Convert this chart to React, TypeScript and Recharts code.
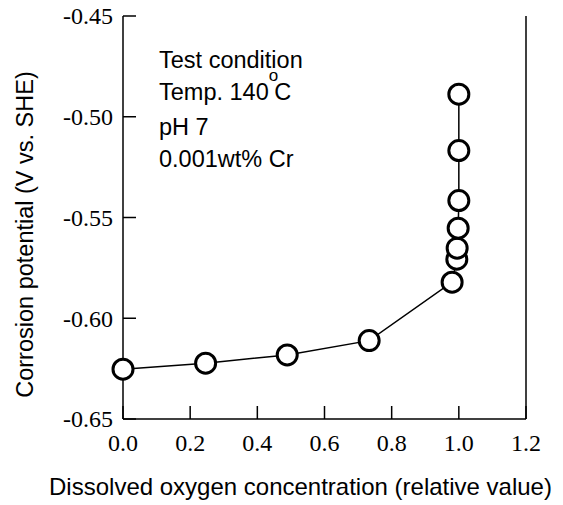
import React from "react";
import { LineChart, Line, XAxis, YAxis, Label } from "recharts";

const oxygenConc = [0.0, 0.246, 0.489, 0.733, 0.98, 0.994, 0.995, 0.998, 1.0, 1.0, 1.0];
const potential = [-0.6253, -0.6223, -0.6182, -0.6111, -0.5821, -0.5707, -0.5652, -0.5553, -0.5416, -0.5168, -0.4888];
const xTicks = [0.0, 0.2, 0.4, 0.6, 0.8, 1.0, 1.2];
const yTicks = [-0.65, -0.6, -0.55, -0.5, -0.45];
const xTitle = "Dissolved oxygen concentration (relative value)";
const yTitle = "Corrosion potential (V vs. SHE)";
const noteLines = ["Test condition", "Temp. 140", "pH 7", "0.001wt% Cr"];

const data = oxygenConc.map((x, i) => ({ x, y: potential[i] }));

const serif = "'Liberation Serif', 'Times New Roman', serif";
const sans = "'Liberation Sans', Arial, sans-serif";

const Dot = (props: any) => {
  const { cx, cy } = props;
  if (cx == null || cy == null) return null;
  return <circle cx={cx} cy={cy} r={10} fill="#fff" stroke="#000" strokeWidth={3} />;
};

const XTick = (props: any) => {
  const { x, y, payload } = props;
  return (
    <g>
      <text x={x} y={y} dy="0.71em" textAnchor="middle" style={{ fill: "#000", fontFamily: serif, fontSize: "24px" }}>
        {Number(payload.value).toFixed(1)}
      </text>
    </g>
  );
};

const YTick = (props: any) => {
  const { x, y, payload } = props;
  return (
    <g>
      <text x={x} y={y} dy="0.35em" textAnchor="end" style={{ fill: "#000", fontFamily: serif, fontSize: "24px" }}>
        {Number(payload.value).toFixed(2)}
      </text>
    </g>
  );
};

export default function App() {
  return (
    <div style={{ position: "relative", width: 563, height: 505, margin: "-8px 0 0 -8px" }}>
      <LineChart width={563} height={505} data={data} margin={{ top: 16, right: 0, bottom: 0, left: 0 }}>
        <XAxis
          xAxisId="b"
          dataKey="x"
          type="number"
          domain={[0, 1.2]}
          ticks={xTicks}
          height={86}
          tickSize={-13}
          tickMargin={28}
          axisLine={{ stroke: "#000", strokeWidth: 1.5 }}
          tickLine={{ stroke: "#000", strokeWidth: 1.5 }}
          tick={(p: any) => <XTick {...p} />}
          interval={0}
        >
          <Label
            value={xTitle}
            position="insideBottom"
            offset={10}
            dx={-24}
            style={{ fill: "#000", fontSize: 24, fontFamily: sans }}
          />
        </XAxis>
        <XAxis
          xAxisId="t"
          orientation="top"
          type="number"
          domain={[0, 1.2]}
          ticks={xTicks}
          height={0}
          tickSize={-13}
          tick={false}
          axisLine={{ stroke: "#000", strokeWidth: 1.5 }}
          tickLine={{ stroke: "#000", strokeWidth: 1.5 }}
          interval={0}
        />
        <YAxis
          yAxisId="l"
          dataKey="y"
          type="number"
          domain={[-0.65, -0.45]}
          ticks={yTicks}
          width={123}
          tickSize={-13}
          tickMargin={23}
          axisLine={{ stroke: "#000", strokeWidth: 1.5 }}
          tickLine={{ stroke: "#000", strokeWidth: 1.5 }}
          tick={(p: any) => <YTick {...p} />}
          interval={0}
        >
          <Label
            value={yTitle}
            angle={-90}
            position="insideLeft"
            offset={25}
            dy={17}
            style={{ fill: "#000", fontSize: 23.5, fontFamily: sans, textAnchor: "middle" }}
          />
        </YAxis>
        <YAxis
          yAxisId="r"
          orientation="right"
          type="number"
          domain={[-0.65, -0.45]}
          ticks={yTicks}
          width={37}
          tickSize={-13}
          tick={false}
          axisLine={{ stroke: "#000", strokeWidth: 1.5 }}
          tickLine={{ stroke: "#000", strokeWidth: 1.5 }}
          interval={0}
        />
        <Line
          xAxisId="b"
          yAxisId="l"
          dataKey="y"
          type="linear"
          stroke="#000"
          strokeWidth={1.5}
          dot={<Dot />}
          activeDot={false}
          isAnimationActive={false}
        />
      </LineChart>
      <div
        style={{
          position: "absolute",
          left: 159,
          top: 44,
          fontFamily: sans,
          fontSize: 23.5,
          lineHeight: "32px",
          color: "#000",
          whiteSpace: "nowrap",
        }}
      >
        <div>{noteLines[0]}</div>
        <div>
          {noteLines[1]}
          <span style={{ position: "relative", top: -19, fontSize: 17, marginRight: -4 }}>o</span>C
        </div>
        <div>{noteLines[2]}</div>
        <div>{noteLines[3]}</div>
      </div>
    </div>
  );
}
